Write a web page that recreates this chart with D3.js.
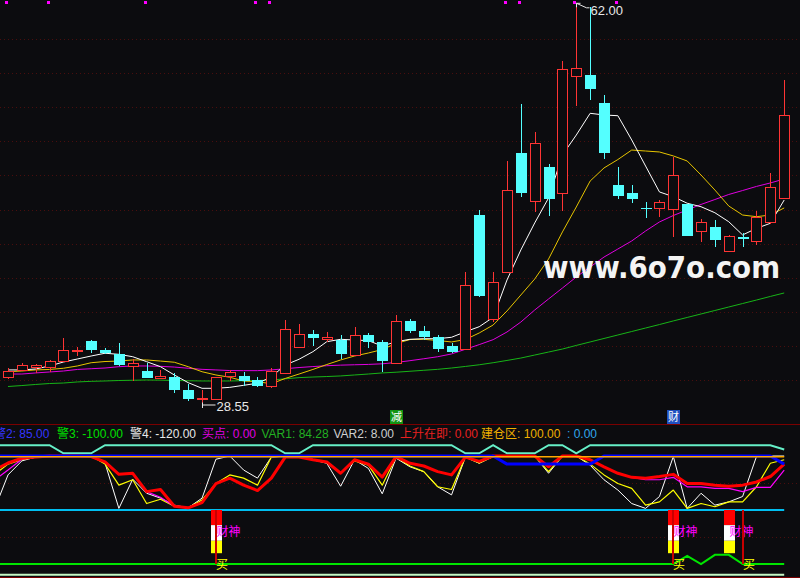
<!DOCTYPE html>
<html><head><meta charset="utf-8">
<script src="https://cdn.jsdelivr.net/npm/d3@7"></script>
<style>html,body{margin:0;padding:0;background:#0c0c0f;overflow:hidden}svg{display:block}</style>
</head><body><svg id="c" width="800" height="578"></svg>
<script>
// ---------- main panel data (57 bars) ----------
const opens  = [30.86,31.47,31.74,31.71,32.24,33.07,33.88,33.13,32.80,31.80,31.38,30.80,30.86,29.80,29.03,29.08,30.97,30.97,30.63,30.13,31.24,33.40,34.46,34.07,33.96,32.69,34.38,33.82,32.02,35.55,34.71,34.19,33.46,33.19,44.37,35.69,39.60,49.51,45.56,48.39,46.23,55.97,56.03,53.70,46.87,46.23,44.93,44.93,44.85,45.26,43.07,43.35,41.40,42.54,42.23,43.76,45.76];
const highs  = [31.63,32.07,31.97,32.30,34.15,33.40,33.96,33.30,33.74,32.36,32.07,31.47,31.19,30.30,29.80,30.90,31.47,31.32,30.86,31.63,35.63,35.30,34.80,34.63,34.38,35.05,34.52,33.96,36.04,35.71,35.13,34.38,33.71,39.65,44.79,39.65,48.87,53.62,51.28,48.62,57.20,62.00,61.72,54.36,48.39,46.87,45.48,45.62,49.23,45.29,44.04,43.96,42.71,42.85,44.71,47.84,55.61];
const lows   = [30.72,31.38,31.24,31.32,32.21,32.66,32.88,32.80,31.80,30.55,30.76,30.72,29.58,28.91,28.55,29.06,30.55,30.13,30.08,29.97,31.22,33.38,33.49,33.80,32.41,32.63,33.30,31.30,31.97,34.55,33.96,32.99,32.88,33.13,37.54,35.49,39.54,45.85,44.62,44.29,44.71,53.45,53.95,49.01,45.70,45.35,44.15,44.18,42.52,42.62,42.15,41.73,41.29,41.68,41.87,43.62,45.70];
const closes = [31.41,31.88,31.86,32.21,33.13,33.17,33.13,32.86,31.88,32.07,30.82,30.97,29.80,29.08,29.11,30.86,31.32,30.55,30.13,31.38,34.85,34.44,34.16,34.19,32.80,34.38,33.82,32.21,35.52,34.71,34.24,33.21,32.96,38.54,37.65,38.79,46.45,46.23,50.39,45.70,56.50,56.59,54.89,49.56,45.98,45.73,44.85,45.43,47.70,42.65,43.76,42.29,42.60,42.35,44.23,46.68,52.70];
const ma5  = [31.47,31.47,31.55,31.80,32.13,32.38,32.63,32.86,32.77,32.57,32.16,31.74,31.05,30.41,29.94,29.94,30.02,30.19,30.36,30.88,31.88,32.36,32.99,33.82,34.02,33.96,33.91,33.46,33.82,34.02,34.07,34.07,34.19,34.65,35.07,35.85,38.96,41.46,43.71,45.79,49.37,51.03,52.84,52.70,52.64,50.62,48.45,46.29,45.90,45.35,45.06,44.56,43.81,42.71,43.26,43.68,45.62];
const ma10 = [31.32,31.38,31.47,31.51,31.61,31.80,32.07,32.17,32.21,32.30,32.30,32.21,32.11,31.74,31.32,31.05,30.86,30.55,30.49,30.32,30.76,31.13,31.51,31.92,32.30,32.63,32.88,33.17,33.67,34.00,34.02,33.92,33.80,34.00,34.55,35.21,36.38,37.71,39.04,40.71,42.96,45.04,47.20,48.29,48.99,49.78,49.70,49.62,49.29,48.87,47.70,46.45,45.12,44.37,44.23,44.37,44.96];
const ma20 = [31.13,31.13,31.22,31.30,31.38,31.51,31.57,31.63,31.74,31.80,31.80,31.77,31.71,31.61,31.52,31.47,31.42,31.41,31.41,31.47,31.57,31.67,31.75,31.82,31.87,31.90,31.93,31.98,32.09,32.24,32.40,32.57,32.80,33.19,33.58,33.99,34.63,35.46,36.46,37.38,38.29,39.21,40.04,40.87,41.54,42.21,43.04,43.79,44.33,44.79,45.25,45.66,46.08,46.41,46.75,47.04,47.37];
const ma60 = [30.09,30.17,30.26,30.34,30.38,30.47,30.52,30.55,30.59,30.61,30.63,30.62,30.59,30.57,30.55,30.55,30.55,30.57,30.59,30.63,30.73,30.83,30.88,30.92,30.97,31.05,31.13,31.22,31.28,31.36,31.44,31.52,31.63,31.76,31.90,32.07,32.26,32.46,32.71,32.96,33.21,33.51,33.80,34.09,34.38,34.67,34.96,35.25,35.55,35.84,36.13,36.42,36.71,37.00,37.29,37.59,37.88];
const markerIdx = [0,3,10,18,19,36,37,41,44];
const signalIdx = [28,48];
const signalText = ['减','财'];
const watermark = 'www.6o7o.com';

// ---------- indicator data (from bar -1 to bar 56) ----------
const oscStart = -1;
const oscWhite  = [0,65,91,98,100,100,100,100,87,3,57,31,22,9,4,22,94,100,74,59,98,100,100,93,86.5,44,93,77,30,96,80,71,43,28,98,86.5,99,100,100,100,68,100,100,83,56,37,12,3,25,99,3,31,9,15,25,99,100,100];
const oscYellow = [65,85,93,98,100,100,100,100,85,46,56,12,20,7,4,18.5,49,65,59,46,98,100,100,93,87.5,68,91,83,46,98,81.5,71,43,38,98,87,99,100,100,100,71,100,100,85,65,49,40,9,15,37,3,12,6,15,15,43,86.5,93];
const oscMagenta= [55,74,94,98,100,100,100,99,89,66,68,34,23.5,7,4,13.5,49,59,46,36,59,98,98,93,89,68,93,85,61,99,86.5,81.5,71,65,98,90,100,100,100,100,80,100,100,93,80,68,60.5,56,56,60.5,43,43,40,40,34,42,42,74];
const var1      = [74,87,96,98,100,100,100,99,89,66,68,34,38,7,4,13.5,49,59,46,36,59,98,98,93,89,68,93,85,61,99,86.5,81.5,71,65,98,90,100,100,100,100,80,100,100,93,80,68,60.5,59,62,66,49,49,46,44,46,52,62,85];
const warn2     = [100,100,100,100,100,100,100,100,100,100,100,100,100,100,100,100,100,100,100,100,100,100,100,100,100,100,100,100,100,100,100,100,100,100,100,100,100,85,85,85,85,85,85,85,100,100,100,100,100,100,100,100,100,100,100,100,100,85];
const topLine   = [120,120,120,120,120,105,105,105,120,120,120,120,120,120,120,120,120,120,120,120,120,105,105,120,120,120,120,120,120,120,120,120,120,120,105,105,120,105,105,105,120,120,105,120,120,120,120,120,120,120,120,120,120,120,120,120,120,112];
const warn3     = [-100,-100,-100,-100,-100,-100,-100,-100,-100,-100,-100,-100,-100,-100,-100,-100,-100,-100,-100,-100,-100,-100,-100,-100,-100,-100,-100,-100,-100,-100,-100,-100,-100,-100,-100,-100,-100,-100,-100,-100,-100,-100,-100,-100,-100,-100,-100,-100,-100,-100,-85,-100,-83,-83,-100,-100,-100,-100];
const buildZone = 100, zeroLevel = 0, warn4 = -120;
const caishenIdx = [15,48,52];
const caishenLevels = [0,-28,-57,-80];
const caishenTextLevel = -30;
const buyIdx = [15,48,53];
const buyLevels = [0,-100];
const buyTextLevel = -90;
const headerNames  = ['警2','警3','警4','买点','VAR1','VAR2','上升在即','建仓区',''];
const headerValues = [85.00,-100.00,-120.00,0.00,84.28,8.00,0.00,100.00,0.00];

// ---------- styles / layout ----------
const BG='#0c0c0f', RED='#ff3434', CYAN='#54ffff';
const headerColors = ['#3535ff','#00e000','#e8e8e8','#e000e0','#22b022','#cfcfcf','#e82020','#f0b000','#30a8ec'];
const headerX = [-6,57,130,202,261.5,333.5,400,481,567];
const FONT = '"Liberation Sans","Noto Sans CJK SC",sans-serif';
const GRID = '#4a0e0e';

const svg = d3.select('#c');
svg.append('rect').attr('width',800).attr('height',578).attr('fill',BG);

const x = d3.scaleLinear().domain([0, opens.length-1]).range([8, 784.2]);
const y = d3.scaleLinear().domain([d3.min(lows), d3.max(highs)]).range([405, 3.3]);
const yI = d3.scaleLinear().domain([-120,120]).range([574.8,445.2]);

// main grid (dotted)
const gGrid = svg.append('g');
d3.range(11).forEach(k=>{
  const yy = Math.round(38.7 + k*34.16)+0.5;
  gGrid.append('line').attr('x1',0).attr('x2',800).attr('y1',yy).attr('y2',yy)
    .attr('stroke',GRID).attr('stroke-dasharray','1,3');
});

// top markers
svg.append('g').selectAll('rect').data(markerIdx).join('rect')
  .attr('x',d=>Math.round(x(d))-3).attr('y',1).attr('width',3).attr('height',3).attr('fill','#ff00ff');

// MA lines
const maLine = d3.line().x((d,i)=>x(i)).y(d=>y(d));
[[ma60,'#17b417'],[ma20,'#e000e0'],[ma10,'#e6c400'],[ma5,'#ffffff']].forEach(([arr,col])=>{
  svg.append('path').attr('d',maLine(arr)).attr('fill','none').attr('stroke',col).attr('stroke-width',1);
});

// candles
const gC = svg.append('g');
opens.forEach((o,i)=>{
  const c = closes[i], h = highs[i], l = lows[i];
  const cx = Math.round(x(i));
  const up = c >= o;
  const col = up ? RED : CYAN;
  const yo = Math.round(y(o)), yc = Math.round(y(c)), yh = Math.round(y(h)), yl = Math.round(y(l));
  const top = Math.min(yo,yc), bot = Math.max(yo,yc);
  if (up) {
    if (yh < top) gC.append('line').attr('x1',cx+.5).attr('x2',cx+.5).attr('y1',yh).attr('y2',top).attr('stroke',col);
    if (yl > bot) gC.append('line').attr('x1',cx+.5).attr('x2',cx+.5).attr('y1',bot+1).attr('y2',yl).attr('stroke',col);
    if (bot - top < 2) {
      gC.append('rect').attr('x',cx-5).attr('y',top).attr('width',11).attr('height',Math.max(1,bot-top+1)).attr('fill',col);
    } else {
      gC.append('rect').attr('x',cx-4.5).attr('y',top+.5).attr('width',10).attr('height',bot-top)
        .attr('fill',BG).attr('stroke',col).attr('stroke-width',1);
    }
  } else {
    gC.append('line').attr('x1',cx+.5).attr('x2',cx+.5).attr('y1',yh).attr('y2',yl).attr('stroke',col);
    gC.append('rect').attr('x',cx-5).attr('y',top).attr('width',11).attr('height',Math.max(1,bot-top)).attr('fill',col);
  }
});

// extreme labels
const hiI = d3.maxIndex(highs), loI = d3.minIndex(lows);
const hx = Math.round(x(hiI)) + 0.5, hy = y(highs[hiI]);
svg.append('path').attr('d',`M${hx+4},${hy} L${hx},${hy} L${hx},${hy+4} M${hx},${hy} L${hx+10},${hy+4.5} L${hx+13},${hy+4.5}`)
  .attr('fill','none').attr('stroke','#e8e8e8').attr('stroke-width',1);
svg.append('text').attr('x',hx+14).attr('y',hy+11.5).text(highs[hiI].toFixed(2))
  .attr('fill','#e8e8e8').attr('font-size',13).attr('font-family',FONT);
const lx = Math.round(x(loI)) + 0.5, ly = y(lows[loI]);
svg.append('path').attr('d',`M${lx},${ly-2.5} L${lx},${ly+3} M${lx},${ly} L${lx+13},${ly}`)
  .attr('fill','none').attr('stroke','#e8e8e8').attr('stroke-width',1);
svg.append('text').attr('x',lx+14).attr('y',ly+6).text(lows[loI].toFixed(2))
  .attr('fill','#e8e8e8').attr('font-size',13).attr('font-family',FONT);

// watermark
svg.append('text').attr('x',543).attr('y',278).text(watermark)
  .attr('fill','#f4f4f4').attr('font-size',30).attr('font-weight','bold')
  .attr('font-family','"DejaVu Sans","Liberation Sans",sans-serif')
  .attr('textLength',237).attr('lengthAdjust','spacingAndGlyphs');

// signal boxes
signalIdx.forEach((si,k)=>{
  const cx = Math.round(x(si));
  svg.append('rect').attr('x',cx-6).attr('y',410).attr('width',13).attr('height',14)
    .attr('fill', k===0 ? '#139413' : '#1f4fbf');
  svg.append('text').attr('x',cx+0.5).attr('y',421).attr('text-anchor','middle').text(signalText[k])
    .attr('fill','#ffffff').attr('font-size',11).attr('font-family',FONT);
});

// separators
svg.append('line').attr('x1',0).attr('x2',800).attr('y1',424.5).attr('y2',424.5).attr('stroke','#7a0000');
svg.append('line').attr('x1',0).attr('x2',800).attr('y1',577.5).attr('y2',577.5).attr('stroke','#7a0000');

// header
headerNames.forEach((n,k)=>{
  svg.append('text').attr('x',headerX[k]).attr('y',438)
    .text(n + ': ' + headerValues[k].toFixed(2))
    .attr('fill',headerColors[k]).attr('font-size',12).attr('font-family',FONT);
});

// ---------- indicator panel ----------
const gI = svg.append('g');
[50,-50].forEach(v=>{
  const yy = Math.round(yI(v))+0.5;
  gI.append('line').attr('x1',0).attr('x2',800).attr('y1',yy).attr('y2',yy)
    .attr('stroke',GRID).attr('stroke-dasharray','1,3');
});
const xI = j => x(j + oscStart);
const oscLine = d3.line().x((d,j)=>xI(j)).y(d=>yI(d));
const lastX = x(opens.length-1);
const hLine = (v,col,w,off=0) => gI.append('line').attr('x1',xI(0)).attr('x2',lastX)
   .attr('y1',yI(v)+off).attr('y2',yI(v)+off).attr('stroke',col).attr('stroke-width',w);

gI.append('path').attr('d',oscLine(topLine)).attr('fill','none').attr('stroke','#66f0c8').attr('stroke-width',2);
hLine(warn4,'#c4f7c4',2);
gI.append('path').attr('d',oscLine(warn3)).attr('fill','none').attr('stroke','#00e600').attr('stroke-width',2);
hLine(zeroLevel,'#00bef0',2.2);

// 财神 bars
const bandCols = ['#ff0000','#ffffff','#ffff00'];
caishenIdx.forEach(ci=>{
  const cx = Math.round(x(ci));
  for (let k=0;k<3;k++){
    const y1 = yI(caishenLevels[k]), y2 = yI(caishenLevels[k+1]);
    gI.append('rect').attr('x',cx-5).attr('y',y1).attr('width',11).attr('height',y2-y1).attr('fill',bandCols[k]);
  }
  gI.append('text').attr('x',cx+0.5).attr('y',yI(caishenTextLevel)+10).text('财神')
    .attr('fill','#ff00ff').attr('font-size',12).attr('font-family',FONT);
});
buyIdx.forEach(bi=>{
  const cx = Math.round(x(bi));
  gI.append('line').attr('x1',cx).attr('x2',cx).attr('y1',yI(buyLevels[0])).attr('y2',yI(buyLevels[1]))
    .attr('stroke','#c80000').attr('stroke-width',2);
  gI.append('text').attr('x',cx).attr('y',yI(buyTextLevel)+10.5).text('买')
    .attr('fill','#ffff00').attr('font-size',12).attr('font-family',FONT);
});

[[oscWhite,'#ffffff',1],[oscYellow,'#ffff00',1.2],[oscMagenta,'#ff00ff',1.2],[var1,'#ff0000',3],[warn2,'#0000ff',3]].forEach(([arr,col,w])=>{
  gI.append('path').attr('d',oscLine(arr)).attr('fill','none').attr('stroke',col).attr('stroke-width',w)
    .attr('stroke-linejoin','round');
});
hLine(buildZone,'#ffaa00',1.5,0.8);
</script></body></html>
